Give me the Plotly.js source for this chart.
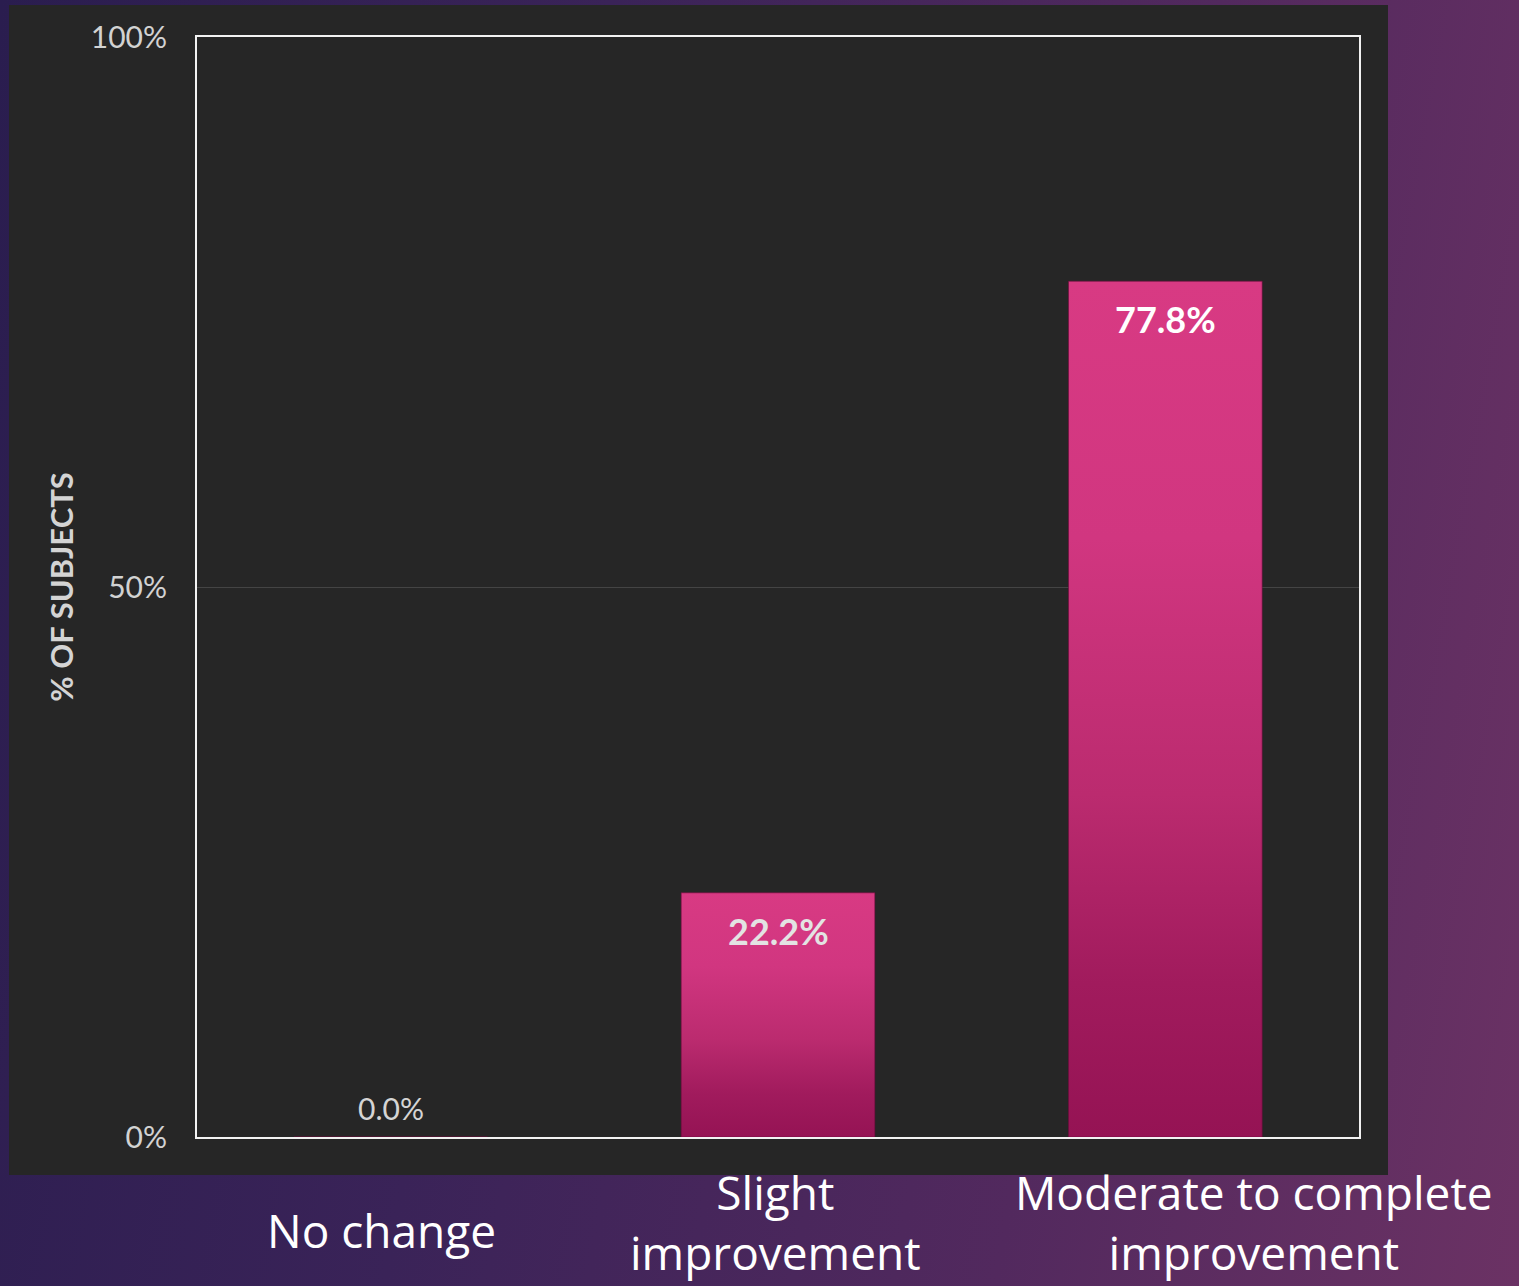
<!DOCTYPE html>
<html>
<head>
<meta charset="utf-8">
<script src="https://cdn.plot.ly/plotly-3.0.1.min.js"></script>
<style>
  html, body { margin: 0; padding: 0; width: 1519px; height: 1286px; overflow: hidden; }
  body { background: linear-gradient(100deg, #2a1d4f 0%, #3a2358 35%, #52295e 70%, #6b3264 100%); }
  #chart { width: 1519px; height: 1286px; }
</style>
</head>
<body>
<div id="chart"></div>
<script>
// ---- data ----
const categories = ["No change", "Slight improvement", "Moderate to complete improvement"];
const categoryLabels = ["No change", "Slight<br>improvement", "Moderate to complete<br>improvement"];
const shareOfSubjects = [0.0, 0.222, 0.778];
const yTickValues = [0, 0.5, 1];
const yTickLabels = ["0%", "50%", "100%"];
const yAxisTitle = "% OF SUBJECTS";

// ---- layout helpers (pixel geometry of the slide) ----
const W = 1519, H = 1286;
const margin = { l: 197, r: 160, t: 37, b: 149 };
const plotW = W - margin.l - margin.r;
const plotH = H - margin.t - margin.b;
const px2paperX = px => (px - margin.l) / plotW;
const px2paperY = py => (H - margin.b - py) / plotH;

const trace = {
  type: "bar",
  x: categories,
  y: shareOfSubjects,
  width: 0.5,
  marker: { color: "#c8306f", line: { color: "rgba(110,10,60,0.6)", width: 1 } },
  hoverinfo: "skip"
};

const annotations = [];
// value labels
shareOfSubjects.forEach((v, i) => {
  const txt = (v * 100).toFixed(1) + "%";
  if (v > 0) {
    annotations.push({
      xref: "x", yref: "y", x: categories[i], y: v,
      text: txt, showarrow: false, yanchor: "middle", yshift: -38,
      font: { family: "Lato, sans-serif", size: 36, color: i === 2 ? "#ffffff" : "#e3e3e3", weight: 700 }
    });
  } else {
    annotations.push({
      xref: "x", yref: "y", x: categories[i], y: v,
      text: txt, showarrow: false, yanchor: "middle", yshift: 29,
      font: { family: "Lato, sans-serif", size: 30, color: "#d4d4d4" }
    });
  }
});
// category labels under the panel
const catShift = [-9, -3, 89];
categoryLabels.forEach((lab, i) => {
  const twoLine = lab.indexOf("<br>") >= 0;
  annotations.push({
    xref: "x", yref: "paper", x: categories[i], y: 0,
    text: lab, showarrow: false,
    yanchor: twoLine ? "bottom" : "middle", xanchor: "center",
    xshift: catShift[i], yshift: twoLine ? -148 : -93,
    font: { family: "'Open Sans', sans-serif", size: 46, color: "#ffffff" }
  });
});

const layout = {
  width: W, height: H,
  margin: margin,
  paper_bgcolor: "rgba(0,0,0,0)",
  plot_bgcolor: "rgba(0,0,0,0)",
  showlegend: false,
  xaxis: {
    type: "category",
    range: [-0.5, categories.length - 0.5],
    showticklabels: false, ticks: "",
    showgrid: false, zeroline: false,
    showline: true, mirror: true, linecolor: "#f2f2f2", linewidth: 2,
    fixedrange: true
  },
  yaxis: {
    range: [0, 1],
    tickvals: yTickValues, ticktext: yTickLabels,
    ticks: "", ticklabelstandoff: 22,
    tickfont: { family: "Lato, sans-serif", size: 30, color: "#d2d2d2" },
    showgrid: true, gridcolor: "#444444", gridwidth: 1,
    zeroline: false,
    showline: true, mirror: true, linecolor: "#f2f2f2", linewidth: 2,
    title: { text: yAxisTitle, standoff: 8, font: { family: "Lato, sans-serif", size: 31, color: "#d4d4d4", weight: 700 } },
    fixedrange: true
  },
  shapes: [{
    type: "rect", xref: "paper", yref: "paper", layer: "below",
    x0: px2paperX(9), x1: px2paperX(1388), y0: px2paperY(1175), y1: px2paperY(5),
    fillcolor: "#262626", line: { width: 0 }
  }],
  annotations: annotations
};

const gd = document.getElementById("chart");
Plotly.newPlot(gd, [trace], layout, { staticPlot: true, displayModeBar: false }).then(applyGradient);
gd.on && gd.on("plotly_afterplot", applyGradient);

function applyGradient() {
  const svg = gd.querySelector("svg.main-svg");
  if (!svg) return;
  const NS = "http://www.w3.org/2000/svg";
  if (!svg.querySelector("#barGrad")) {
    let defs = svg.querySelector("defs");
    if (!defs) { defs = document.createElementNS(NS, "defs"); svg.insertBefore(defs, svg.firstChild); }
    const lg = document.createElementNS(NS, "linearGradient");
    lg.setAttribute("id", "barGrad");
    lg.setAttribute("x1", "0"); lg.setAttribute("y1", "0");
    lg.setAttribute("x2", "0"); lg.setAttribute("y2", "1");
    [["0", "#d83a83"], ["0.3", "#d13680"], ["0.6", "#bb2b6f"], ["0.82", "#a11b5d"], ["1", "#951354"]].forEach(([o, c]) => {
      const s = document.createElementNS(NS, "stop");
      s.setAttribute("offset", o); s.setAttribute("stop-color", c);
      lg.appendChild(s);
    });
    defs.appendChild(lg);
  }
  gd.querySelectorAll(".barlayer .point path").forEach(p => { p.style.fill = "url(#barGrad)"; });
}
</script>
</body>
</html>
